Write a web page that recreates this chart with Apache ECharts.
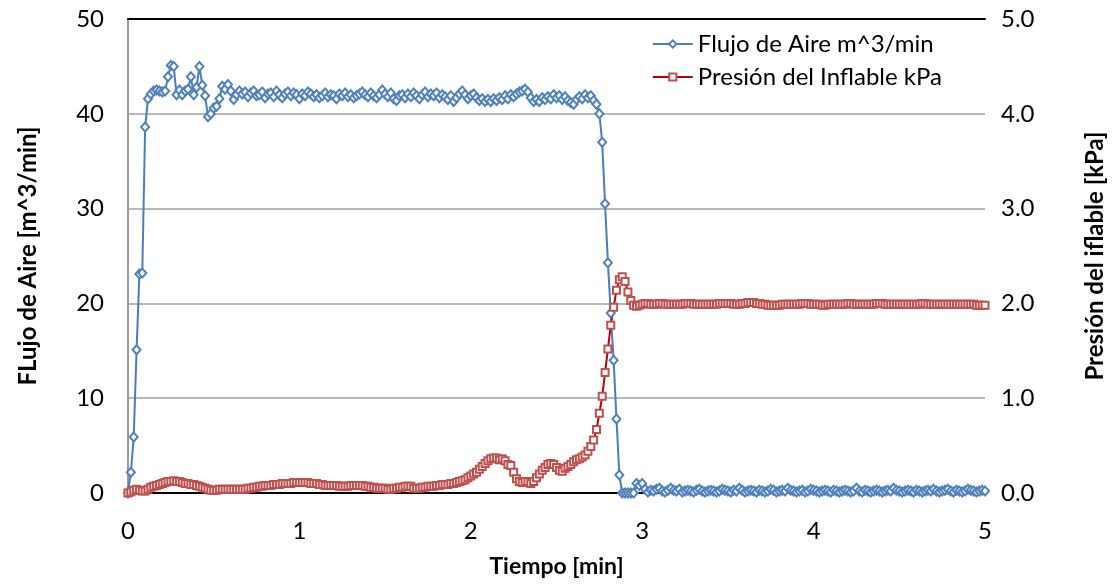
<!DOCTYPE html>
<html>
<head>
    <meta charset="utf-8">
    <title>Flujo de aire y presión</title>
    <style>
        html, body { margin: 0; padding: 0; background: #fff; }
        #main { width: 1112px; height: 584px; }
    </style>
</head>
<body>
<div id="main"></div>

<script src="https://cdn.jsdelivr.net/npm/echarts@6/dist/echarts.min.js"></script>
<script>
    // datos registrados cada segundo (t en minutos)
    var sampleStepMin = 1 / 60;

    // Flujo de Aire [m^3/min]
    var flujoAire = [
        0, 2.2, 5.9, 15.1, 23.1, 23.2, 38.6, 41.6, 42.1, 42.4,
        42.5, 42.4, 42.3, 42.4, 43.9, 45.1, 45.0, 42.0, 42.5, 42.0,
        42.4, 42.6, 43.9, 42.0, 42.8, 45.0, 43.0, 41.9, 39.7, 40.0,
        40.6, 40.8, 41.6, 42.9, 42.6, 43.1, 42.4, 41.5, 42.0, 42.4,
        42.1, 42.3, 41.8, 42.2, 42.4, 41.9, 42.0, 42.3, 41.7, 42.1,
        42.2, 41.8, 42.4, 42.0, 41.7, 42.1, 42.3, 41.9, 42.2, 42.0,
        41.6, 42.1, 41.9, 42.3, 42.1, 41.8, 42.0, 41.7, 41.9, 42.2,
        41.8, 42.0, 41.9, 41.6, 42.1, 41.9, 42.2, 41.8, 42.0, 41.7,
        41.9, 42.1, 42.3, 42.0, 41.8, 42.2, 41.9, 41.7, 42.0, 42.5,
        42.1, 41.8, 42.2, 41.6, 41.4, 41.9, 42.0, 41.7, 42.1, 41.8,
        42.2, 41.9, 41.6, 42.0, 42.3, 41.8, 42.1, 41.9, 42.2, 41.7,
        42.0, 41.8, 41.5, 41.9, 41.3, 41.7, 42.1, 42.4, 42.0, 41.6,
        41.9, 42.1, 41.7, 41.4, 41.6, 41.3, 41.5, 41.3, 41.6, 41.4,
        41.7, 41.5, 41.9, 41.6, 42.0, 41.8, 42.1, 42.3, 42.4, 42.6,
        42.3, 41.7, 41.3, 41.5, 41.3, 41.7, 41.5, 41.8, 41.6, 42.0,
        41.7, 41.9, 41.5, 41.8, 41.4, 41.2, 41.0, 41.5, 41.8, 41.6,
        42.0, 41.7, 41.9, 41.4, 41.0, 40.0, 37.0, 30.5, 24.3, 19.0,
        14.0, 7.8, 1.9, 0, 0, 0, 0, 0, 1.0, 0.8,
        1.0, 0.4, 0.1, 0.3, 0.2, 0.4, 0.5, 0.2, 0.1, 0.3,
        0.5, 0.3, 0.2, 0.4, 0.1, 0.2, 0.3, 0.2, 0.1, 0.3,
        0.4, 0.2, 0.1, 0.2, 0.3, 0.2, 0.1, 0.2, 0.4, 0.3,
        0.2, 0.1, 0.3, 0.2, 0.5, 0.3, 0.1, 0.2, 0.3, 0.2,
        0.1, 0.3, 0.2, 0.1, 0.2, 0.4, 0.3, 0.1, 0.2, 0.3,
        0.2, 0.5, 0.3, 0.2, 0.1, 0.2, 0.3, 0.1, 0.2, 0.4,
        0.3, 0.2, 0.1, 0.2, 0.3, 0.2, 0.1, 0.3, 0.2, 0.1,
        0.2, 0.3, 0.2, 0.1, 0.2, 0.5, 0.2, 0.1, 0.3, 0.2,
        0.1, 0.2, 0.3, 0.2, 0.1, 0.2, 0.3, 0.2, 0.5, 0.3,
        0.2, 0.1, 0.2, 0.3, 0.2, 0.1, 0.3, 0.2, 0.1, 0.2,
        0.3, 0.2, 0.4, 0.2, 0.1, 0.2, 0.3, 0.4, 0.2, 0.1,
        0.3, 0.2, 0.1, 0.2, 0.4, 0.3, 0.2, 0.1, 0.2, 0.3,
        0.2
    ];

    // Presión del Inflable [kPa]
    var presionInflable = [
        0.00, 0.01, 0.03, 0.04, 0.03, 0.02, 0.02, 0.04, 0.06, 0.07,
        0.08, 0.09, 0.10, 0.11, 0.12, 0.12, 0.13, 0.12, 0.12, 0.11,
        0.10, 0.10, 0.09, 0.09, 0.08, 0.07, 0.06, 0.05, 0.04, 0.03,
        0.03, 0.03, 0.04, 0.04, 0.04, 0.04, 0.04, 0.04, 0.04, 0.04,
        0.04, 0.04, 0.05, 0.05, 0.06, 0.06, 0.07, 0.07, 0.08, 0.08,
        0.08, 0.09, 0.09, 0.09, 0.10, 0.10, 0.10, 0.10, 0.11, 0.11,
        0.11, 0.11, 0.11, 0.11, 0.10, 0.10, 0.10, 0.09, 0.09, 0.08,
        0.08, 0.08, 0.08, 0.08, 0.07, 0.07, 0.07, 0.07, 0.08, 0.08,
        0.08, 0.08, 0.08, 0.07, 0.07, 0.06, 0.06, 0.05, 0.05, 0.05,
        0.05, 0.04, 0.04, 0.05, 0.05, 0.06, 0.06, 0.07, 0.07, 0.07,
        0.05, 0.05, 0.05, 0.06, 0.06, 0.07, 0.07, 0.07, 0.08, 0.08,
        0.09, 0.09, 0.09, 0.10, 0.10, 0.11, 0.12, 0.13, 0.14, 0.16,
        0.18, 0.20, 0.22, 0.25, 0.28, 0.31, 0.34, 0.36, 0.37, 0.37,
        0.35, 0.36, 0.34, 0.30, 0.29, 0.22, 0.15, 0.12, 0.11, 0.12,
        0.12, 0.10, 0.12, 0.16, 0.20, 0.24, 0.27, 0.30, 0.31, 0.30,
        0.27, 0.24, 0.23, 0.26, 0.28, 0.30, 0.33, 0.35, 0.36, 0.38,
        0.40, 0.44, 0.49, 0.56, 0.67, 0.84, 1.02, 1.27, 1.52, 1.77,
        1.96, 2.14, 2.25, 2.28, 2.23, 2.12, 2.03, 1.98, 1.97, 1.98,
        1.99, 2.00, 2.00, 1.99, 1.99, 1.99, 2.00, 2.00, 1.99, 1.99,
        1.99, 1.99, 1.99, 1.99, 1.99, 2.00, 2.00, 2.00, 1.99, 1.99,
        1.99, 1.99, 1.99, 1.99, 1.99, 1.99, 1.99, 2.00, 2.00, 2.00,
        2.00, 2.00, 1.99, 1.99, 1.99, 2.00, 2.00, 2.01, 2.01, 2.01,
        2.00, 2.00, 1.99, 1.99, 1.98, 1.98, 1.98, 1.98, 1.98, 1.99,
        1.99, 1.99, 1.99, 1.99, 1.99, 1.99, 2.00, 2.00, 2.00, 1.99,
        1.99, 1.99, 1.99, 1.98, 1.98, 1.99, 1.99, 1.99, 1.99, 1.99,
        1.99, 1.99, 2.00, 2.00, 1.99, 1.99, 1.99, 1.99, 1.99, 1.99,
        1.99, 1.99, 2.00, 2.00, 2.00, 1.99, 1.99, 1.99, 1.99, 1.99,
        1.99, 1.99, 1.99, 1.99, 1.99, 1.99, 1.99, 1.99, 2.00, 2.00,
        1.99, 1.99, 1.99, 1.99, 1.99, 1.99, 1.99, 1.99, 1.99, 1.99,
        1.99, 1.99, 1.99, 1.99, 1.99, 1.99, 1.99, 1.98, 1.98, 1.98,
        1.98
    ];

    var seriesNames = ['Flujo de Aire m^3/min', 'Presión del Inflable kPa'];

    function withTime(values) {
        return values.map(function (v, i) { return [i * sampleStepMin, v]; });
    }

    var fontFamily = 'Lato, "Liberation Sans", sans-serif';

    var myChart = echarts.init(document.getElementById('main'), null, {renderer: 'canvas'});

    myChart.setOption({
        animation: false,
        textStyle: {fontFamily: fontFamily},
        grid: {left: 128, right: 127, top: 19, bottom: 91, containLabel: false, outerBoundsMode: 'none'},
        legend: {
            data: seriesNames,
            orient: 'vertical',
            right: 165,
            top: 27,
            itemWidth: 40,
            itemHeight: 9,
            itemGap: 9,
            textStyle: {fontSize: 24, color: '#000', fontFamily: fontFamily}
        },
        xAxis: [
            {
                type: 'value',
                min: 0,
                max: 5,
                interval: 1,
                name: 'Tiempo [min]',
                nameLocation: 'middle',
                nameGap: 62,
                nameTextStyle: {fontSize: 23, fontWeight: 'bold', color: '#000'},
                axisLine: {lineStyle: {color: '#000', width: 2}},
                axisTick: {show: false},
                axisLabel: {fontSize: 24, color: '#000', margin: 26},
                splitLine: {show: false}
            },
            {
                // borde superior del área de trazado
                type: 'value',
                position: 'top',
                min: 0,
                max: 5,
                axisLine: {onZero: false, lineStyle: {color: '#000', width: 2}},
                axisTick: {show: false},
                axisLabel: {show: false},
                splitLine: {show: false}
            }
        ],
        yAxis: [
            {
                type: 'value',
                min: 0,
                max: 50,
                interval: 10,
                name: 'FLujo de Aire [m^3/min]',
                nameLocation: 'middle',
                nameGap: 88,
                nameTextStyle: {fontSize: 24, fontWeight: 'bold', color: '#000'},
                axisLine: {show: true, lineStyle: {color: '#000', width: 2}},
                axisTick: {show: false},
                axisLabel: {fontSize: 24, color: '#000', margin: 24},
                splitLine: {lineStyle: {color: '#a0a0a0', width: 1.5}}
            },
            {
                type: 'value',
                min: 0,
                max: 5,
                interval: 1,
                name: 'Presión del iflable [kPa]',
                nameLocation: 'middle',
                nameGap: 98,
                nameTextStyle: {fontSize: 24, fontWeight: 'bold', color: '#000'},
                axisLine: {show: true, lineStyle: {color: '#9a9a9a', width: 2}},
                axisTick: {show: false},
                axisLabel: {
                    fontSize: 24, color: '#000', margin: 16,
                    formatter: function (v) { return v.toFixed(1); }
                },
                splitLine: {show: false}
            }
        ],
        series: [
            {
                name: seriesNames[0],
                type: 'line',
                xAxisIndex: 0,
                yAxisIndex: 0,
                data: withTime(flujoAire),
                symbol: 'emptyDiamond',
                symbolSize: [8, 9],
                showAllSymbol: true,
                itemStyle: {color: '#4f81bd', borderWidth: 1.4},
                lineStyle: {color: '#4a7ebb', width: 2}
            },
            {
                name: seriesNames[1],
                type: 'line',
                xAxisIndex: 0,
                yAxisIndex: 1,
                data: withTime(presionInflable),
                symbol: 'emptyRect',
                symbolSize: 7,
                showAllSymbol: true,
                itemStyle: {color: '#c0504d', borderWidth: 1.4},
                lineStyle: {color: '#c00000', width: 2}
            }
        ]
    });
</script>
</body>
</html>
